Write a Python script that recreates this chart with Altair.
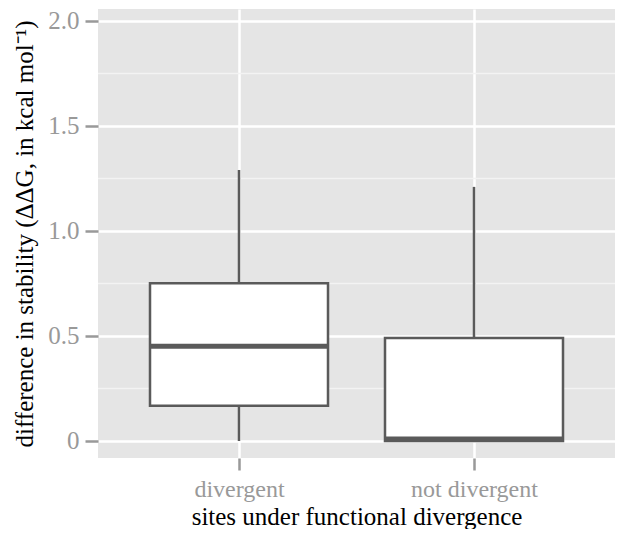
import altair as alt
import pandas as pd

# ---- data ----
groups = ["divergent", "not divergent"]
lower_whisker = [0.0, 0.0]
q1 = [0.168, 0.0]
median = [0.451, 0.01]
q3 = [0.751, 0.49]
upper_whisker = [1.29, 1.21]

y_ticks = [0, 0.5, 1.0, 1.5, 2.0]
minor_breaks = [0.25, 0.75, 1.25, 1.75]

df = pd.DataFrame({
    "group": groups,
    "lo": lower_whisker,
    "q1": q1,
    "med": median,
    "q3": q3,
    "hi": upper_whisker,
})
minor_df = pd.DataFrame({"v": minor_breaks})

FONT = "Liberation Serif"
BOX_COLOR = "#5a5a5a"
LABEL_GRAY = "#999999"

x_enc = alt.X(
    "group:N",
    sort=groups,
    scale=alt.Scale(type="point", padding=0.6),
    axis=alt.Axis(
        title="sites under functional divergence",
        grid=True,
        gridColor="white",
        gridWidth=2.5,
        domain=False,
        tickColor=LABEL_GRAY,
        tickWidth=2.5,
        tickSize=12,
        labelPadding=7,
        labelAngle=0,
        labelFont=FONT,
        labelFontSize=24,
        labelColor=LABEL_GRAY,
        titleFont=FONT,
        titleFontSize=25,
        titleFontWeight="normal",
        titleColor="black",
        titlePadding=3,
    ),
)

y_scale = alt.Scale(domain=[-0.081, 2.057], nice=False, zero=False)

y_axis = alt.Axis(
    title="difference in stability (ΔΔG, in kcal mol⁻¹)",
    values=y_ticks,
    labelExpr="datum.value == 0 ? '0' : format(datum.value, '.1f')",
    grid=True,
    gridColor="white",
    gridWidth=2.5,
    domain=False,
    tickColor=LABEL_GRAY,
    tickWidth=2.5,
    tickSize=13,
    labelPadding=6,
    labelFont=FONT,
    labelFontSize=25,
    labelColor=LABEL_GRAY,
    titleFont=FONT,
    titleFontSize=25,
    titleFontWeight="normal",
    titleColor="black",
    titlePadding=10,
)

minor = alt.Chart(minor_df).mark_rule(color="#f3f3f3", strokeWidth=1.5).encode(
    y=alt.Y("v:Q", scale=y_scale, axis=y_axis)
)

whisker = alt.Chart(df).mark_rule(color=BOX_COLOR, strokeWidth=2.5).encode(
    x=x_enc,
    y=alt.Y("lo:Q", scale=y_scale, axis=y_axis),
    y2="hi:Q",
)

box = alt.Chart(df).mark_bar(
    size=178, fill="white", stroke=BOX_COLOR, strokeWidth=2.5
).encode(
    x=x_enc,
    y=alt.Y("q1:Q", scale=y_scale, axis=y_axis),
    y2="q3:Q",
)

med = alt.Chart(df).mark_tick(
    size=178, thickness=5, color=BOX_COLOR, opacity=1
).encode(
    x=x_enc,
    y=alt.Y("med:Q", scale=y_scale, axis=y_axis),
)

chart = (
    alt.layer(minor, whisker, box, med)
    .properties(
        width=608,
        height=449,
        padding={"left": 4, "top": 0, "right": 0, "bottom": 0},
        autosize=alt.AutoSizeParams(type="fit-x", contains="padding"),
        background="white",
    )
    .configure_view(fill="#e5e5e5", stroke=None)
)

chart.save("out.html", embed_options={"renderer": "svg", "actions": False})
